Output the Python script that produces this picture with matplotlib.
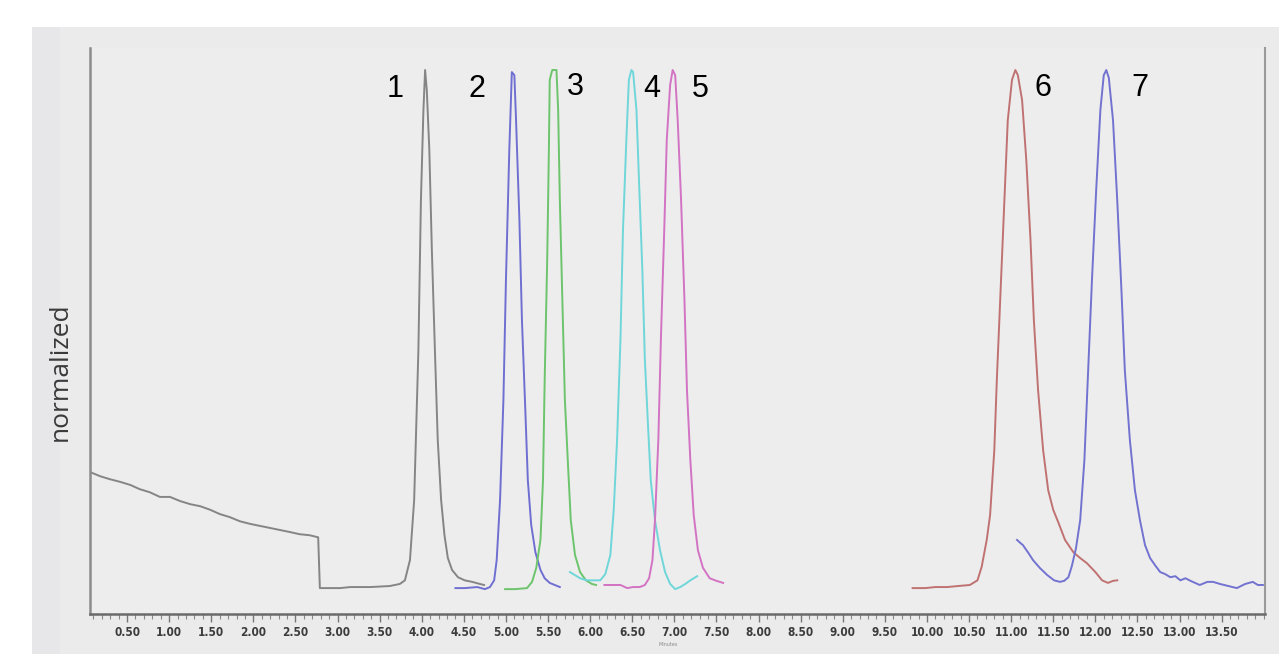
import matplotlib.pyplot as plt
from matplotlib.patches import Rectangle
from matplotlib.ticker import MultipleLocator, FormatStrFormatter

# retention time (min) and normalized response for each trace
gray_t = [0.06, 0.18, 0.30, 0.42, 0.54, 0.65, 0.77, 0.89, 1.01, 1.13,
          1.25, 1.37, 1.49, 1.60, 1.72, 1.84, 1.96, 2.08, 2.20, 2.32,
          2.44, 2.55, 2.67, 2.77, 2.79, 2.82, 3.03, 3.15, 3.39, 3.62,
          3.74, 3.80, 3.86, 3.91, 3.96, 3.99, 4.02, 4.04, 4.06, 4.09,
          4.12, 4.16, 4.19, 4.23, 4.27, 4.31, 4.36, 4.43, 4.51, 4.60,
          4.69, 4.74]
gray_y = [0.224, 0.216, 0.210, 0.205, 0.199, 0.191, 0.185, 0.176, 0.176, 0.168,
          0.162, 0.158, 0.151, 0.143, 0.137, 0.129, 0.124, 0.120, 0.116, 0.112,
          0.108, 0.104, 0.102, 0.098, 0.0, 0.0, 0.0, 0.002, 0.002, 0.004,
          0.008, 0.015, 0.054, 0.170, 0.458, 0.747, 0.923, 1.0, 0.961, 0.846,
          0.653, 0.440, 0.286, 0.170, 0.102, 0.058, 0.035, 0.021, 0.015, 0.012,
          0.008, 0.006]

blue2_t = [4.40, 4.51, 4.66, 4.75, 4.81, 4.86, 4.89, 4.93, 4.97, 5.00,
           5.04, 5.07, 5.10, 5.12, 5.16, 5.19, 5.23, 5.26, 5.30, 5.35,
           5.41, 5.46, 5.52, 5.58, 5.64]
blue2_y = [0.0, 0.0, 0.002, -0.002, 0.002, 0.015, 0.054, 0.170, 0.363, 0.595,
           0.846, 0.996, 0.990, 0.903, 0.710, 0.517, 0.344, 0.208, 0.122, 0.069,
           0.035, 0.019, 0.010, 0.006, 0.002]

green_t = [4.99, 5.11, 5.25, 5.31, 5.36, 5.41, 5.44, 5.46, 5.49, 5.51,
           5.52, 5.55, 5.60, 5.62, 5.64, 5.67, 5.70, 5.74, 5.77, 5.82,
           5.88, 5.95, 6.02, 6.07]
green_y = [-0.002, -0.002, 0.0, 0.012, 0.039, 0.093, 0.208, 0.402, 0.633, 0.846,
           0.981, 1.0, 1.0, 0.923, 0.749, 0.556, 0.363, 0.228, 0.131, 0.064,
           0.031, 0.015, 0.008, 0.006]

cyan_t = [5.76, 5.82, 5.88, 5.96, 6.06, 6.12, 6.18, 6.24, 6.28, 6.32,
          6.36, 6.39, 6.43, 6.46, 6.49, 6.51, 6.55, 6.58, 6.62, 6.65,
          6.69, 6.72, 6.77, 6.83, 6.89, 6.95, 7.01, 7.07, 7.13, 7.19, 7.27]
cyan_y = [0.031, 0.025, 0.019, 0.015, 0.015, 0.015, 0.027, 0.064, 0.151, 0.286,
          0.479, 0.691, 0.865, 0.981, 1.0, 0.996, 0.923, 0.788, 0.614, 0.440,
          0.305, 0.208, 0.131, 0.073, 0.031, 0.008, -0.002, 0.002, 0.008, 0.015, 0.023]

magenta_t = [6.17, 6.26, 6.36, 6.44, 6.51, 6.59, 6.65, 6.70, 6.74, 6.77,
             6.81, 6.84, 6.88, 6.91, 6.95, 6.98, 7.01, 7.04, 7.08, 7.12,
             7.15, 7.19, 7.23, 7.28, 7.34, 7.42, 7.50, 7.58]
magenta_y = [0.006, 0.006, 0.006, 0.0, 0.002, 0.002, 0.006, 0.019, 0.054, 0.131,
             0.286, 0.479, 0.691, 0.865, 0.971, 1.0, 0.990, 0.903, 0.749, 0.556,
             0.382, 0.247, 0.141, 0.073, 0.039, 0.019, 0.014, 0.010]

red_t = [9.83, 9.98, 10.10, 10.24, 10.37, 10.51, 10.60, 10.65, 10.71, 10.75,
         10.80, 10.83, 10.87, 10.92, 10.96, 11.01, 11.05, 11.08, 11.13, 11.18,
         11.23, 11.27, 11.32, 11.38, 11.44, 11.50, 11.56, 11.64, 11.74, 11.82,
         11.90, 12.00, 12.08, 12.15, 12.21, 12.26]
red_y = [0.0, 0.0, 0.002, 0.002, 0.004, 0.006, 0.015, 0.041, 0.093, 0.141,
         0.266, 0.402, 0.556, 0.749, 0.903, 0.981, 1.0, 0.990, 0.942, 0.826,
         0.672, 0.517, 0.382, 0.266, 0.189, 0.151, 0.127, 0.093, 0.069, 0.058,
         0.048, 0.031, 0.015, 0.010, 0.014, 0.015]

blue7_t = [11.07, 11.11, 11.14, 11.20, 11.26, 11.34, 11.43, 11.51, 11.58, 11.63,
           11.68, 11.72, 11.77, 11.82, 11.87, 11.91, 11.96, 12.01, 12.06, 12.10,
           12.13, 12.16, 12.21, 12.26, 12.31, 12.35, 12.41, 12.47, 12.53, 12.59,
           12.65, 12.71, 12.77, 12.83, 12.89, 12.95, 13.01, 13.07, 13.13, 13.24,
           13.33, 13.40, 13.48, 13.58, 13.68, 13.78, 13.87, 13.93, 13.99]
blue7_y = [0.093, 0.087, 0.083, 0.069, 0.054, 0.039, 0.025, 0.015, 0.012, 0.014,
           0.021, 0.042, 0.077, 0.131, 0.247, 0.402, 0.595, 0.768, 0.923, 0.990,
           1.0, 0.985, 0.903, 0.749, 0.575, 0.421, 0.286, 0.189, 0.131, 0.083,
           0.058, 0.044, 0.031, 0.027, 0.021, 0.023, 0.015, 0.019, 0.014, 0.006,
           0.012, 0.012, 0.008, 0.004, 0.0, 0.008, 0.012, 0.006, 0.006]

peak_labels = ['1', '2', '3', '4', '5', '6', '7']
label_t = [3.68, 4.66, 5.82, 6.73, 7.31, 11.38, 12.53]
label_y = [0.963, 0.963, 0.967, 0.963, 0.963, 0.965, 0.965]

traces = [
    (gray_t, gray_y, '#858585'),
    (blue2_t, blue2_y, '#6f6fd2'),
    (green_t, green_y, '#6cc46c'),
    (cyan_t, cyan_y, '#6fd6da'),
    (magenta_t, magenta_y, '#d273c4'),
    (red_t, red_y, '#c07272'),
    (blue7_t, blue7_y, '#7272d0'),
]

fig = plt.figure(figsize=(12.79, 6.54), dpi=100, facecolor='white')

# grey panel behind the plot (screenshot background)
fig.patches.append(Rectangle((32 / 1279, 0), 1, 627 / 654, transform=fig.transFigure,
                             facecolor='#ebebeb', edgecolor='none', zorder=-2))
fig.patches.append(Rectangle((32 / 1279, 0), 28 / 1279, 627 / 654, transform=fig.transFigure,
                             facecolor='#e7e7e9', edgecolor='none', zorder=-1))

ax = fig.add_axes([90 / 1279, 40 / 654, 1175 / 1279, 566 / 654])
ax.set_facecolor('#ededed')

for t, y, c in traces:
    ax.plot(t, y, color=c, lw=1.4, solid_joinstyle='round')

for lab, t, y in zip(peak_labels, label_t, label_y):
    ax.text(t, y, lab, fontsize=22, family='Liberation Sans', color='black',
            ha='center', va='center')

ax.set_xlim(0.06, 14.015)
ax.set_ylim(-0.050, 1.0425)

ax.spines['top'].set_visible(False)
ax.spines['left'].set_color('#8c8c8c')
ax.spines['left'].set_linewidth(1.8)
ax.spines['bottom'].set_color('#6a6a6a')
ax.spines['bottom'].set_linewidth(1.8)
ax.spines['right'].set_color('#9a9a9a')
ax.spines['right'].set_linewidth(1.5)

ax.set_yticks([])
ax.set_xticks([v / 2 for v in range(1, 28)])
ax.xaxis.set_minor_locator(MultipleLocator(0.1))
ax.xaxis.set_major_formatter(FormatStrFormatter('%.2f'))
ax.tick_params(axis='x', which='major', length=6, width=1, color='#777777',
               labelsize=8.5, labelcolor='#3c3c3c', pad=3)
ax.tick_params(axis='x', which='minor', length=3.5, width=0.8, color='#888888')
for lbl in ax.get_xticklabels():
    lbl.set_family('DejaVu Sans')
    lbl.set_fontstretch('condensed')
    lbl.set_fontweight('bold')

ax.text(6.93, -0.108, 'Minutes', fontsize=3.5, color='#888888', ha='center', va='center')

fig.text(60 / 1279, 1 - 372 / 654, 'normalized', rotation=90, fontsize=19,
         family='Open Sans', color='#3a3a3a', ha='center', va='center')

fig.savefig('out.png', dpi=100, facecolor='white')
